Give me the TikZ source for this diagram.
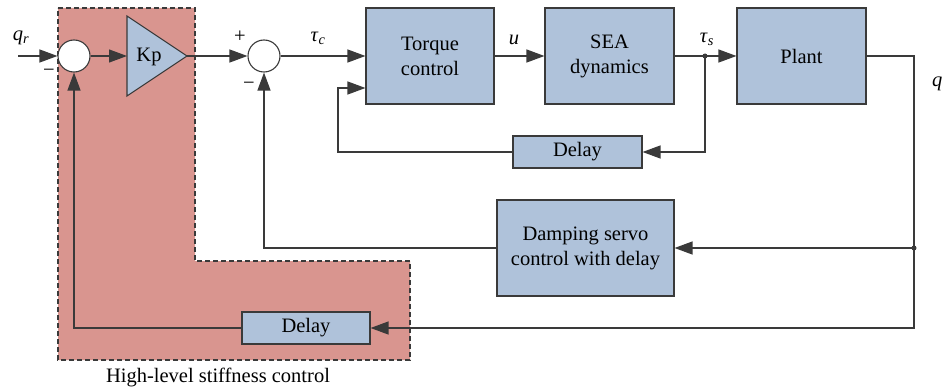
\documentclass[tikz,border=0pt]{standalone}
\usepackage{fontspec}
\setmainfont{Liberation Serif}
\usetikzlibrary{arrows.meta}
\definecolor{boxblue}{HTML}{AFC2DA}
\definecolor{hlred}{HTML}{D9958F}
\definecolor{lin}{HTML}{3A3A3A}
\begin{document}
\begin{tikzpicture}[x=1pt,y=-1pt,
  blk/.style={draw=lin, fill=boxblue, line width=1.1pt, font=\fontsize{20.5}{25}\selectfont, align=center, inner sep=0pt},
  sumc/.style={circle, draw=lin, fill=white, line width=1.1pt, minimum size=32pt, inner sep=0pt},
  conn/.style={draw=lin, line width=1.2pt},
  arr/.style={conn, -{Triangle[length=18pt,width=13pt]}},
  lbl/.style={font=\fontsize{20.5}{25}\selectfont, inner sep=0pt}]
\useasboundingbox (0,0) rectangle (942,390);
\fill[white] (0,0) rectangle (942,390);
% high-level region
\draw[fill=hlred, draw=lin, dash pattern=on 5pt off 3pt, line width=1.3pt] (58,8) -- (195,8) -- (195,261) -- (410,261) -- (410,360) -- (58,360) -- cycle;
\node[lbl] (hl) at (218,377) {High-level stiffness control};
% blocks
\node[blk, minimum width=128pt, minimum height=96pt] (tc) at (430,56) {Torque\\control};
\node[blk, minimum width=129pt, minimum height=96pt] (sea) at (609.5,56) {SEA\\dynamics};
\node[blk, minimum width=129pt, minimum height=96pt] (plant) at (801.5,56) {Plant};
\node[blk, minimum width=129pt, minimum height=32pt] (d1) at (577.5,152) {Delay};
\node[blk, minimum width=177pt, minimum height=96pt] (damp) at (585.5,248) {Damping servo\\control with delay};
\node[blk, minimum width=128pt, minimum height=32pt] (d2) at (306,328) {Delay};
% sums
\node[sumc] (s1) at (74,56) {};
\node[sumc] (s2) at (264,56) {};
% Kp triangle
\draw[draw=lin, fill=boxblue, line width=1.1pt] (127,16) -- (127,96) -- (187,56) -- cycle;
\node[lbl] (kp) at (149,57) {Kp};
\coordinate (kpin) at (127,56);
\coordinate (kpout) at (187,56);
% coordinates
\coordinate (qin) at (18,56);
\coordinate (tap) at (705,56);
\coordinate (fb1) at (338,88);
\coordinate (br) at (914,328);
\coordinate (tap2) at (914,248);
% connectors
\draw[arr] (qin) -- (s1.west);
\draw[arr] (s1.east) -- (kpin);
\draw[arr] (kpout) -- (s2.west);
\draw[arr] (s2.east) -- (tc.west);
\draw[arr] (tc.east) -- (sea.west);
\draw[arr] (sea.east) -- (plant.west);
\fill[lin] (tap) circle (2.5pt);
\draw[arr] (tap) |- (d1.east);
\draw[arr] (d1.west) -| (fb1) -- (tc.west |- fb1);
\draw[arr] (plant.east) -| (br) -- (d2.east);
\fill[lin] (tap2) circle (2.5pt);
\draw[arr] (tap2) -- (damp.east);
\draw[arr] (damp.west) -| (s2.south);
\draw[arr] (d2.west) -| (s1.south);
% labels
\node[lbl] (lqr) at (21,38) {\textit{q}\textsubscript{\textit{r}}};
\node[lbl] (m1) at (49,73) {−};
\node[lbl] (p2) at (240,37) {+};
\node[lbl] (m2) at (249,86) {−};
\node[lbl] (ltc) at (318,38) {\textit{τ}\textsubscript{\textit{c}}};
\node[lbl] (lu) at (514,40) {\textit{u}};
\node[lbl] (lts) at (707,39) {\textit{τ}\textsubscript{\textit{s}}};
\node[lbl, anchor=west] (lq) at (932,84) {\textit{q}\textsubscript{\textit{a}}};
\end{tikzpicture}
\end{document}
